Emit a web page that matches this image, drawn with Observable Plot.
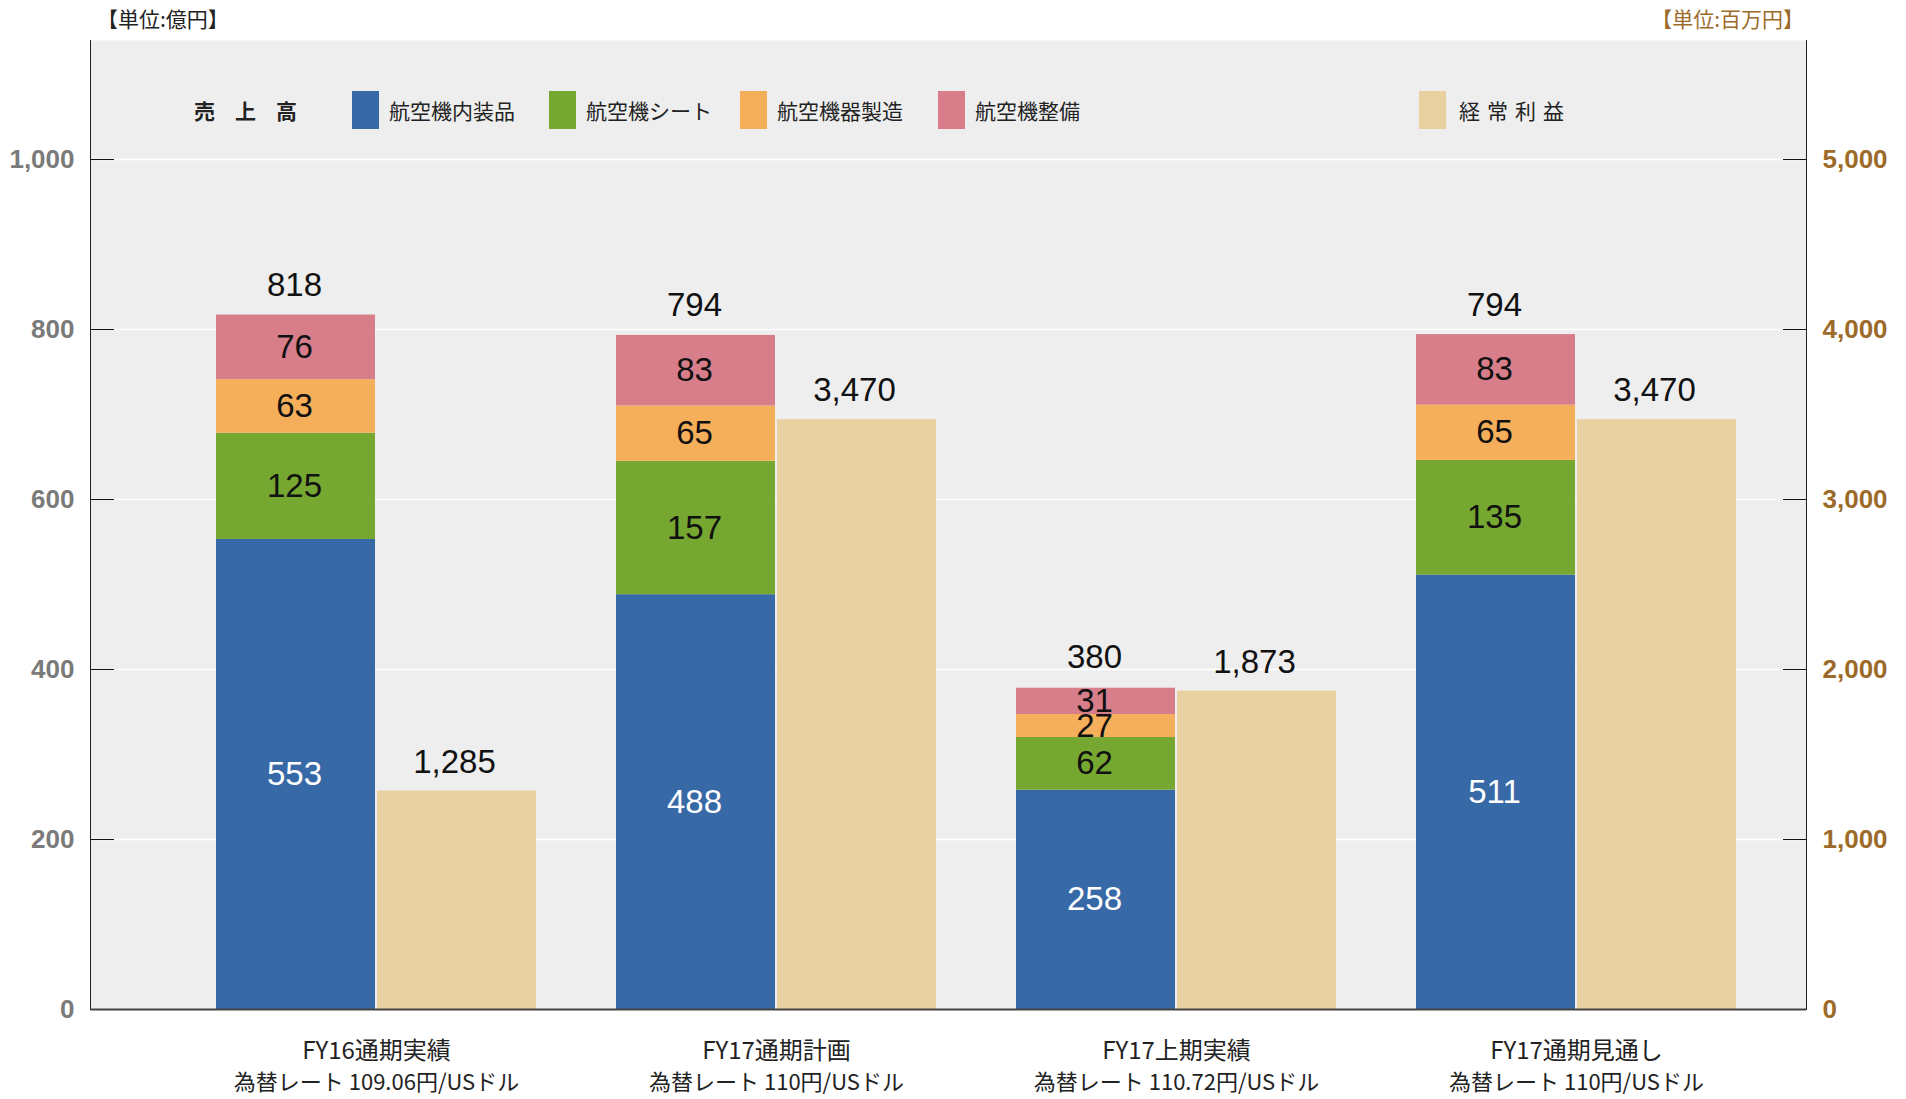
<!DOCTYPE html>
<html><head><meta charset="utf-8">
<script src="https://cdn.jsdelivr.net/npm/d3@7"></script>
<script src="https://cdn.jsdelivr.net/npm/@observablehq/plot@0.6"></script>
<style>
body{margin:0;background:#fff;}
#wrap{position:relative;width:1906px;height:1099px;font-family:"Liberation Sans Narrow","Noto Sans CJK JP",sans-serif;}
#wrap svg{position:absolute;left:0;top:0;}
.unit{position:absolute;top:5px;font-size:21px;line-height:26px;font-family:"Noto Sans CJK JP",sans-serif;}
.lg{position:absolute;top:91px;height:38px;line-height:38px;font-size:21px;color:#222;font-family:"Noto Sans CJK JP",sans-serif;white-space:nowrap;}
.sw{position:absolute;top:91px;width:27px;height:38px;}
</style></head>
<body><div id="wrap"></div>
<script>
const categories = ["FY16通期実績","FY17通期計画","FY17上期実績","FY17通期見通し"];
const rates = ["為替レート 109.06円/USドル","為替レート 110円/USドル","為替レート 110.72円/USドル","為替レート 110円/USドル"];
const series = ["航空機内装品","航空機シート","航空機器製造","航空機整備"];
const interior = [553, 488, 258, 511];
const seats = [125, 157, 62, 135];
const manufacturing = [63, 65, 27, 65];
const maintenance = [76, 83, 31, 83];
const salesTotals = [818, 794, 380, 794];
const ordinaryProfit = [1285, 3470, 1873, 3470];
const salesTicks = [0, 200, 400, 600, 800, 1000];
const profitTicks = [0, 1000, 2000, 3000, 4000, 5000];
const salesTitle = "売上高";
const profitTitle = "経常利益";
const leftUnit = "【単位:億円】";
const rightUnit = "【単位:百万円】";
const colors = ["#3869a7", "#76a730", "#f5ae5a", "#d77e8a"];
const profitColor = "#e8d0a0";

const ratio = profitTicks[profitTicks.length - 1] / salesTicks[salesTicks.length - 1];
const seriesValues = [interior, seats, manufacturing, maintenance];
const stacked = series.flatMap((s, i) => categories.map((c, j) => ({category: c, series: s, value: seriesValues[i][j]})));
const totals = categories.map((c, i) => ({category: c, total: salesTotals[i]}));
const profit = categories.map((c, i) => ({category: c, value: ordinaryProfit[i]}));
const labels = categories.map((c, i) => ({category: c, rate: rates[i]}));
const fmt = d3.format(",");
const numFont = "Liberation Sans Narrow, Arial Narrow, sans-serif";

const chart = Plot.plot({
  width: 1906, height: 1099,
  marginTop: 40, marginBottom: 90, marginLeft: 90, marginRight: 100,
  style: {fontFamily: "Liberation Sans Narrow, Noto Sans CJK JP, sans-serif", background: "transparent", overflow: "visible"},
  x: {type: "band", domain: categories, paddingInner: 0.2, paddingOuter: 0, insetLeft: 124, insetRight: 69, axis: null},
  y: {domain: [0, 1140], axis: null},
  color: {domain: series, range: colors},
  marks: [
    Plot.frame({fill: "#eeeeee"}),
    Plot.ruleY(salesTicks.slice(1), {stroke: "#ffffff", strokeWidth: 1.5}),
    Plot.barY(stacked, {x: "category", y: "value", z: "series", fill: "series", insetRight: 161}),
    Plot.barY(profit, {x: "category", y: d => d.value / ratio, fill: profitColor, insetLeft: 161}),
    Plot.text(stacked, Plot.filter(d => d.series === series[0], Plot.stackY({x: "category", y: "value", z: "series", text: "value", fill: "#ffffff", dx: -82, fontSize: 33, fontFamily: numFont}))),
    Plot.text(stacked, Plot.filter(d => d.series !== series[0], Plot.stackY({x: "category", y: "value", z: "series", text: "value", fill: "#111111", dx: -82, fontSize: 33, fontFamily: numFont}))),
    Plot.text(totals, {x: "category", y: "total", text: d => fmt(d.total), dx: -82, dy: -29, fontSize: 33, fill: "#111111", fontFamily: numFont}),
    Plot.text(profit, {x: "category", y: d => d.value / ratio, text: d => fmt(d.value), dx: 78, dy: -29, fontSize: 33, fill: "#111111", fontFamily: numFont}),
    Plot.text(labels, {x: "category", text: "category", frameAnchor: "bottom", dy: 49, fontSize: 24, fill: "#222222"}),
    Plot.text(labels, {x: "category", text: "rate", frameAnchor: "bottom", dy: 80, fontSize: 22, fill: "#222222"}),
    Plot.axisY(salesTicks, {anchor: "left", tickSize: -24, tickPadding: 40, fontSize: 26, fontWeight: "bold", fill: "#7a7a7a", stroke: "#111111", tickFormat: d => fmt(d), fontFamily: numFont}),
    Plot.axisY(salesTicks, {anchor: "right", tickSize: -24, tickPadding: 40, fontSize: 26, fontWeight: "bold", fill: "#9c6b2a", stroke: "#111111", tickFormat: d => fmt(d * ratio), fontFamily: numFont}),
    Plot.frame({anchor: "left", stroke: "#222222"}),
    Plot.frame({anchor: "right", stroke: "#222222"}),
    Plot.ruleY([0], {stroke: "#444444", strokeWidth: 2})
  ]
});

const wrap = document.getElementById("wrap");
wrap.appendChild(chart);

function addDiv(cls, text, styles) {
  const el = document.createElement("div");
  el.className = cls;
  if (text) el.textContent = text;
  Object.assign(el.style, styles);
  wrap.appendChild(el);
  return el;
}
addDiv("unit", leftUnit, {left: "97px", color: "#222"});
addDiv("unit", rightUnit, {right: "102px", color: "#9c6b2a"});
addDiv("lg", salesTitle, {left: "194px", fontWeight: "bold", letterSpacing: "20px"});
const swX = [352, 549, 740, 938];
series.forEach((s, i) => {
  addDiv("sw", "", {left: swX[i] + "px", background: colors[i]});
  addDiv("lg", s, {left: (swX[i] + 37) + "px"});
});
addDiv("sw", "", {left: "1419px", background: profitColor});
addDiv("lg", profitTitle, {left: "1459px", letterSpacing: "7px"});
</script>
</body></html>
